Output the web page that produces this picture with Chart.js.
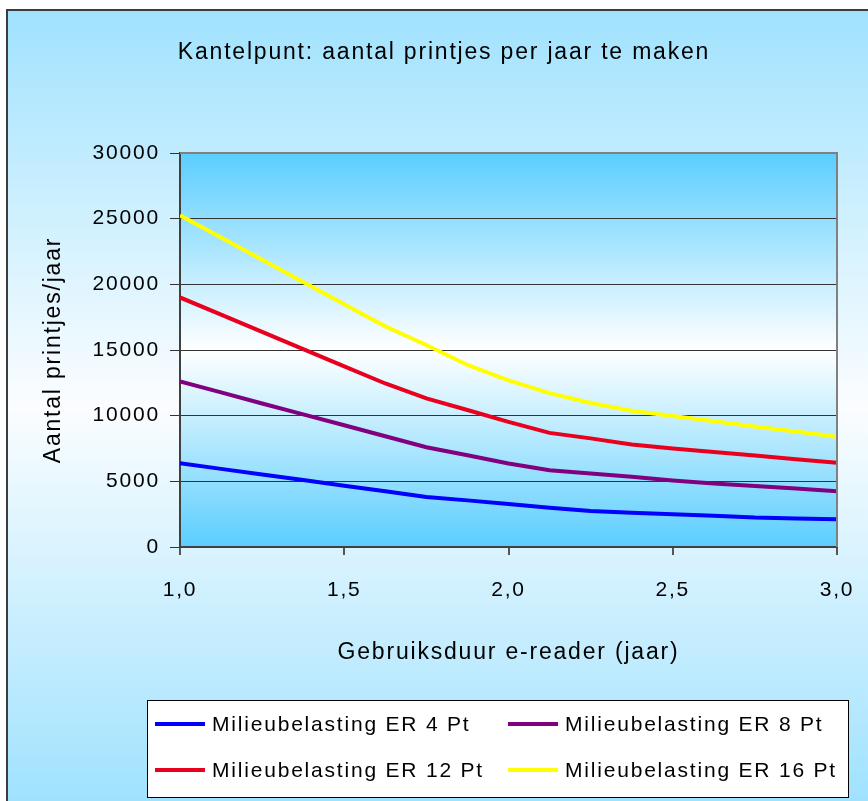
<!DOCTYPE html>
<html><head><meta charset="utf-8">
<script src="https://cdn.jsdelivr.net/npm/chart.js@4/dist/chart.umd.min.js"></script>
<style>html,body{margin:0;padding:0;background:#fff;overflow:hidden}canvas{display:block}</style>
</head><body>
<div style="width:868px;height:801px"><canvas id="c" width="868" height="801"></canvas></div>
<script>
const chartTitle = 'Kantelpunt: aantal printjes per jaar te maken';
const xTitle = 'Gebruiksduur e-reader (jaar)';
const yTitle = 'Aantal printjes/jaar';
const years = [1.0, 1.125, 1.25, 1.375, 1.5, 1.625, 1.75, 1.875, 2.0, 2.125, 2.25, 2.375, 2.5, 2.625, 2.75, 2.875, 3.0];
const seriesNames = ['Milieubelasting ER 4 Pt', 'Milieubelasting ER 8 Pt', 'Milieubelasting ER 12 Pt', 'Milieubelasting ER 16 Pt'];
const er4  = [6380, 5950, 5520, 5100, 4670, 4240, 3810, 3550, 3270, 2990, 2750, 2610, 2490, 2380, 2240, 2170, 2110];
const er8  = [12600, 11770, 10930, 10100, 9270, 8430, 7600, 6990, 6360, 5850, 5600, 5340, 5060, 4840, 4640, 4450, 4250];
const er12 = [19000, 17690, 16380, 15070, 13760, 12450, 11320, 10430, 9530, 8690, 8270, 7810, 7500, 7230, 6960, 6680, 6410];
const er16 = [25250, 23560, 21870, 20180, 18490, 16800, 15380, 13860, 12680, 11720, 10970, 10370, 9980, 9580, 9180, 8790, 8390];
const seriesColors = ['#0000ff', '#800080', '#e8001e', '#ffff00'];
const xTickValues = [1.0, 1.5, 2.0, 2.5, 3.0];
const yMax = 30000, yStep = 5000;

const FONT = "'Liberation Sans', Arial, sans-serif";
const SPACING = '1.8px';
Chart.defaults.font.family = FONT;
Chart.defaults.color = '#000';

const allSeries = [er4, er8, er12, er16];

const spacingPlugin = {
  id: 'spacing',
  beforeLayout(c) { c.ctx.letterSpacing = SPACING; },
  beforeDraw(c) { c.ctx.letterSpacing = SPACING; }
};

const backgroundPlugin = {
  id: 'bg',
  beforeDraw(chart) {
    const {ctx, chartArea: a} = chart;
    ctx.save();
    let g = ctx.createLinearGradient(0, 10, 0, 801);
    g.addColorStop(0, '#a0e2fe');
    g.addColorStop(0.5, '#fbfdff');
    g.addColorStop(1, '#a0e2fe');
    ctx.fillStyle = g;
    ctx.fillRect(7, 10, 861, 791);
    ctx.strokeStyle = '#3c3c3c';
    ctx.lineWidth = 2;
    ctx.beginPath();
    ctx.moveTo(7, 801); ctx.lineTo(7, 10); ctx.lineTo(868, 10);
    ctx.stroke();
    g = ctx.createLinearGradient(0, a.top, 0, a.bottom);
    g.addColorStop(0, '#5bcefe');
    g.addColorStop(0.5, '#ffffff');
    g.addColorStop(1, '#5bcefe');
    ctx.fillStyle = g;
    ctx.fillRect(a.left, a.top, a.right - a.left, a.bottom - a.top);
    ctx.restore();
  },
  afterDatasetsDraw(chart) {
    const {ctx, chartArea: a} = chart;
    ctx.save();
    ctx.strokeStyle = '#808080';
    ctx.lineWidth = 2;
    ctx.beginPath();
    ctx.moveTo(a.left, a.top); ctx.lineTo(a.right, a.top); ctx.lineTo(a.right, a.bottom);
    ctx.stroke();
    ctx.restore();
  },
  afterDraw(chart) {
    const {ctx} = chart;
    ctx.save();
    ctx.letterSpacing = SPACING;
    // title
    ctx.fillStyle = '#000';
    ctx.font = '23px ' + FONT;
    ctx.textAlign = 'center';
    ctx.textBaseline = 'middle';
    ctx.fillText(chartTitle, 444, 53);
    // legend
    const lx = 147, ly = 700, lw = 701, lh = 97;
    ctx.fillStyle = '#ffffff';
    ctx.fillRect(lx, ly, lw, lh);
    ctx.strokeStyle = '#000';
    ctx.lineWidth = 1;
    ctx.strokeRect(lx + 0.5, ly + 0.5, lw, lh);
    const colX = [155, 508], rowY = [724, 770];
    ctx.font = '21px ' + FONT;
    ctx.textAlign = 'left';
    chart.data.datasets.forEach((ds, i) => {
      const x = colX[i % 2], y = rowY[Math.floor(i / 2)];
      ctx.strokeStyle = ds.borderColor;
      ctx.lineWidth = 4;
      ctx.beginPath(); ctx.moveTo(x, y); ctx.lineTo(x + 50, y); ctx.stroke();
      ctx.fillStyle = '#000';
      ctx.fillText(ds.label, x + 57, y + 1);
    });
    ctx.restore();
  }
};

new Chart(document.getElementById('c'), {
  type: 'line',
  data: {
    datasets: allSeries.map((s, i) => ({
      label: seriesNames[i],
      data: years.map((x, j) => ({x: x, y: s[j]})),
      borderColor: seriesColors[i],
      backgroundColor: seriesColors[i],
      borderWidth: 4,
      pointRadius: 0,
      tension: 0,
      fill: false
    }))
  },
  options: {
    responsive: false,
    animation: false,
    devicePixelRatio: 1,
    layout: {padding: {top: 153, left: 8, right: 31, bottom: 0}},
    plugins: {legend: {display: false}, title: {display: false}, tooltip: {enabled: false}},
    scales: {
      x: {
        type: 'linear', min: 1, max: 3,
        afterFit(s) { s.height = 254; s.paddingLeft = 0; s.paddingRight = 0; },
        afterBuildTicks(s) { s.ticks = xTickValues.map(v => ({value: v})); },
        ticks: {font: {size: 21}, padding: 23, color: '#000', maxRotation: 0,
          callback: v => v.toFixed(1).replace('.', ',')},
        grid: {drawOnChartArea: false, drawTicks: true, tickLength: 8, color: '#555', lineWidth: 2},
        border: {color: '#404040', width: 2},
        title: {display: true, text: xTitle, font: {size: 23}, color: '#000', padding: {top: 0, bottom: 135}}
      },
      y: {
        min: 0, max: yMax,
        afterFit(s) { s.width = 172; s.paddingTop = 0; s.paddingBottom = 0; },
        ticks: {stepSize: yStep, font: {size: 21}, padding: 10, color: '#000', callback: v => String(v)},
        grid: {color: '#333', lineWidth: 1, tickLength: 10, drawTicks: true},
        border: {color: '#404040', width: 2},
        title: {display: true, text: yTitle, font: {size: 23}, color: '#000', padding: {top: 32, bottom: 0}}
      }
    }
  },
  plugins: [spacingPlugin, backgroundPlugin]
});
</script>
</body></html>
